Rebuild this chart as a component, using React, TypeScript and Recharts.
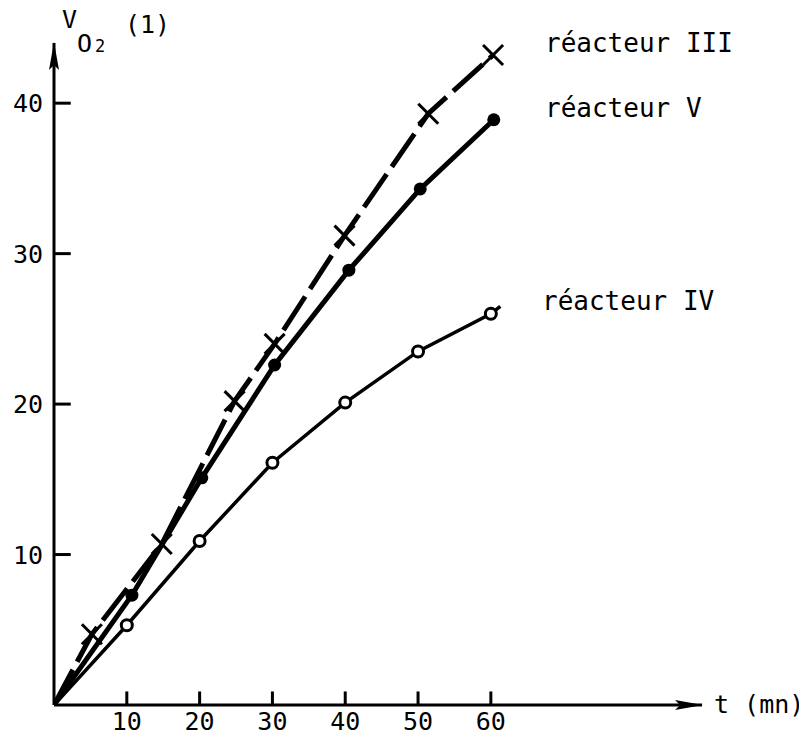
import { LineChart, Line, XAxis, YAxis, ReferenceLine } from 'recharts';

const FONT = '"DejaVu Sans Mono", "Liberation Mono", monospace';

const xTicks = [10, 20, 30, 40, 50, 60];
const yTicks = [10, 20, 30, 40];

// réacteur III (crosses)
const r3T = [5.2, 14.8, 24.8, 30.3, 39.9, 51.4, 60.3];
const r3V = [4.7, 10.7, 20.2, 24.0, 31.2, 39.3, 43.2];
// réacteur V (filled dots)
const r5T = [10.7, 20.3, 30.3, 40.5, 50.3, 60.4];
const r5V = [7.3, 15.1, 22.6, 28.9, 34.3, 38.9];
// réacteur IV (open dots), the drawn curve runs a little past the last point
const r4T = [10, 20, 30, 40, 50, 60];
const r4V = [5.3, 10.9, 16.1, 20.1, 23.5, 26.0];
const r4Tail = [61.3, 26.5];

// inward tick marks, length in axis units (about 13px up, 17px right)
const X_TICK_LEN = 0.9;
const Y_TICK_LEN = 2.3;

type Pt = { t: number; v: number; mark: boolean };

const series = (ts: number[], vs: number[], tail?: number[]): Pt[] => {
  const pts: Pt[] = [{ t: 0, v: 0, mark: false }];
  ts.forEach((t, i) => pts.push({ t, v: vs[i], mark: true }));
  if (tail) pts.push({ t: tail[0], v: tail[1], mark: false });
  return pts;
};

const r3 = series(r3T, r3V);
const r5 = series(r5T, r5V);
const r4 = series(r4T, r4V, r4Tail);

const Cross = (p: any) => {
  if (!p.payload?.mark) return <g key={p.index} />;
  const s = 10;
  return (
    <g key={p.index} stroke="#000" strokeWidth={3}>
      <line x1={p.cx - s} y1={p.cy - s} x2={p.cx + s} y2={p.cy + s} />
      <line x1={p.cx - s} y1={p.cy + s} x2={p.cx + s} y2={p.cy - s} />
    </g>
  );
};

const Filled = (p: any) => {
  if (!p.payload?.mark) return <g key={p.index} />;
  return <circle key={p.index} cx={p.cx} cy={p.cy} r={6.5} fill="#000" />;
};

const Open = (p: any) => {
  if (!p.payload?.mark) return <g key={p.index} />;
  return <circle key={p.index} cx={p.cx} cy={p.cy} r={5.5} fill="#fff" stroke="#000" strokeWidth={3} />;
};

const XTick = ({ x, y, payload }: any) => (
  <text x={x} y={Number(y) + 25} textAnchor="middle" fontFamily={FONT} fontSize={25} fill="#000">
    {payload.value}
  </text>
);

const YTick = ({ x, y, payload }: any) => (
  <text x={Number(x) - 11} y={Number(y) + 9} textAnchor="end" fontFamily={FONT} fontSize={25} fill="#000">
    {payload.value}
  </text>
);

const txt = { fontFamily: FONT, fill: '#000' };

export default function App() {
  return (
    <div style={{ margin: -8, width: 807, height: 742, background: '#fff' }}>
      <LineChart width={807} height={742} margin={{ top: 43, right: 105, bottom: 7, left: 14 }}>
        <defs>
          <marker
            id="arrow"
            viewBox="0 0 28 12"
            refX={27}
            refY={6}
            markerWidth={28}
            markerHeight={12}
            markerUnits="userSpaceOnUse"
            orient="auto-start-reverse"
          >
            <path d="M0,1 L28,6 L0,11 L5,6 Z" fill="#000" />
          </marker>
        </defs>
        <XAxis
          type="number"
          dataKey="t"
          domain={[0, 89]}
          ticks={xTicks}
          allowDataOverflow
          height={30}
          tickSize={0}
          tickMargin={0}
          tickLine={false}
          tick={<XTick />}
          axisLine={{ stroke: '#000', strokeWidth: 3, markerEnd: 'url(#arrow)' }}
        />
        <YAxis
          type="number"
          dataKey="v"
          domain={[0, 44]}
          ticks={yTicks}
          allowDataOverflow
          width={40}
          tickSize={0}
          tickMargin={0}
          tickLine={false}
          tick={<YTick />}
          axisLine={{ stroke: '#000', strokeWidth: 3, markerStart: 'url(#arrow)' }}
        />
        {xTicks.map((t) => (
          <ReferenceLine
            key={'xt' + t}
            segment={[{ x: t, y: 0 }, { x: t, y: X_TICK_LEN }]}
            stroke="#000"
            strokeWidth={3}
          />
        ))}
        {yTicks.map((v) => (
          <ReferenceLine
            key={'yt' + v}
            segment={[{ x: 0, y: v }, { x: Y_TICK_LEN, y: v }]}
            stroke="#000"
            strokeWidth={3}
          />
        ))}
        <Line
          data={r4}
          dataKey="v"
          type="linear"
          stroke="#000"
          strokeWidth={3.5}
          dot={Open}
          activeDot={false}
          isAnimationActive={false}
        />
        <Line
          data={r5}
          dataKey="v"
          type="linear"
          stroke="#000"
          strokeWidth={5}
          dot={Filled}
          activeDot={false}
          isAnimationActive={false}
        />
        <Line
          data={r3}
          dataKey="v"
          type="linear"
          stroke="#000"
          strokeWidth={5}
          strokeDasharray="40 9"
          dot={Cross}
          activeDot={false}
          isAnimationActive={false}
        />
        <text x={62} y={28} fontSize={25} {...txt}>V</text>
        <text x={77} y={52} fontSize={25} {...txt}>O</text>
        <text x={95} y={52} fontSize={17} {...txt}>2</text>
        <text x={125} y={33} fontSize={25} {...txt}>(1)</text>
        <text x={714} y={713} fontSize={25} {...txt}>t (mn)</text>
        <text x={545} y={52} fontSize={26} {...txt}>réacteur III</text>
        <text x={545} y={117} fontSize={26} {...txt}>réacteur V</text>
        <text x={542} y={310} fontSize={26} {...txt}>réacteur IV</text>
      </LineChart>
    </div>
  );
}
